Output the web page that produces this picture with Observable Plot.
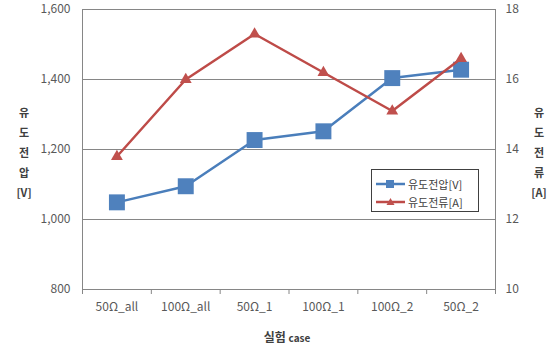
<!DOCTYPE html>
<html><head><meta charset="utf-8">
<script src="https://cdn.jsdelivr.net/npm/d3@7"></script>
<script src="https://cdn.jsdelivr.net/npm/@observablehq/plot@0.6"></script>
<style>
body{margin:0;background:#fff;font-family:"Noto Sans CJK KR",sans-serif}
#wrap{position:relative;width:554px;height:348px;overflow:hidden}
.vt{position:absolute;top:102px;width:24px;font-size:11px;font-weight:bold;color:#404040;text-align:center;line-height:20px}
#xt{position:absolute;left:0;width:574px;top:328px;text-align:center;font-weight:bold;color:#404040;font-size:12px}
#xt span{font-size:10px}
#legend{position:absolute;left:371px;top:169px;width:106px;height:41px;border:1px solid #404040;background:#fff;font-size:11px;color:#404040}
.li{position:absolute;left:4px;height:16px;display:flex;align-items:center}
.li svg{margin-right:3px}
</style></head>
<body>
<div id="wrap">
<div id="chart"></div>
<div class="vt" style="left:12px">유<br>도<br>전<br>압<br>[V]</div>
<div class="vt" style="left:527px">유<br>도<br>전<br>류<br>[A]</div>
<div id="xt">실험 <span>case</span></div>
<div id="legend">
 <div class="li" style="top:6px"><svg width="29" height="12"><line x1="0" y1="6" x2="29" y2="6" stroke="#4A7EBB" stroke-width="2.5"/><rect x="10" y="2" width="8" height="8" fill="#4F81BD"/></svg>유도전압[V]</div>
 <div class="li" style="top:24px"><svg width="29" height="12"><line x1="0" y1="6" x2="29" y2="6" stroke="#BE4B48" stroke-width="2.5"/><path d="M14.5,2 L18.5,9 L10.5,9 Z" fill="#C0504D"/></svg>유도전류[A]</div>
</div>
</div>
<script>
const categories = ["50Ω_all", "100Ω_all", "50Ω_1", "100Ω_1", "100Ω_2", "50Ω_2"];
const voltage = [1049, 1095, 1227, 1252, 1404, 1428];
const current = [13.8, 16.0, 17.3, 16.2, 15.1, 16.6];
const leftTicks = [800, 1000, 1200, 1400, 1600];
const rightTicks = [10, 12, 14, 16, 18];

const toLeft = c => 800 + (c - 10) * 100;
const fromLeft = v => 10 + (v - 800) / 100;
const xi = (d, i) => i + 0.5;

const plot = Plot.plot({
  width: 554, height: 348,
  marginLeft: 82, marginRight: 59, marginTop: 9, marginBottom: 59,
  style: {fontFamily: "'Noto Sans CJK KR', sans-serif", fontSize: "12px", color: "#595959", background: "#fff", overflow: "visible"},
  x: {domain: [0, 6]},
  y: {domain: [800, 1600]},
  marks: [
    Plot.ruleY(leftTicks.slice(1), {stroke: "#868686", strokeWidth: 1}),
    Plot.ruleY([800], {stroke: "#868686", strokeWidth: 1}),
    Plot.ruleX([0, 6], {stroke: "#868686", strokeWidth: 1}),
    Plot.axisY({ticks: leftTicks, tickFormat: d3.format(","), tickSize: 0, tickPadding: 12, label: null}),
    Plot.axisY({anchor: "right", ticks: rightTicks.map(toLeft), tickFormat: d => String(fromLeft(d)), tickSize: 0, tickPadding: 10, label: null}),
    Plot.axisX({ticks: d3.range(7), tickFormat: () => "", tickSize: 5, stroke: "#868686", label: null}),
    Plot.axisX({ticks: categories.map((c, i) => i + 0.5), tickFormat: d => categories[Math.round(d - 0.5)], tickSize: 0, tickPadding: 13, label: null}),
    Plot.line(voltage, {x: xi, y: d => d, stroke: "#4A7EBB", strokeWidth: 2.5}),
    Plot.dot(voltage, {x: xi, y: d => d, symbol: "square", r: 9, fill: "#4F81BD", stroke: "none"}),
    Plot.line(current, {x: xi, y: d => toLeft(d), stroke: "#BE4B48", strokeWidth: 2.5}),
    Plot.dot(current, {x: xi, y: d => toLeft(d), symbol: "triangle", r: 4.4, fill: "#C0504D", stroke: "none"})
  ]
});
document.getElementById("chart").appendChild(plot);
</script>
</body></html>
